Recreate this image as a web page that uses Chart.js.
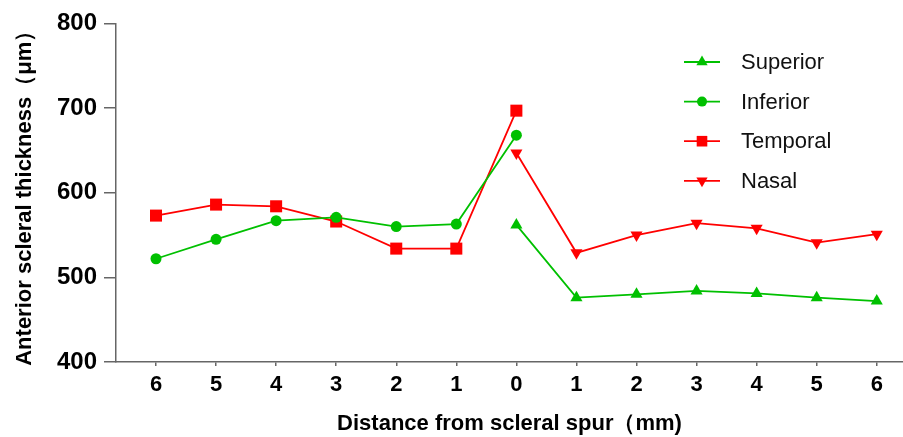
<!DOCTYPE html>
<html>
<head>
<meta charset="utf-8">
<script src="https://cdn.jsdelivr.net/npm/chart.js@4.4.1/dist/chart.umd.min.js"></script>
<style>
  html, body { margin: 0; padding: 0; background: #fff; }
  #wrap { width: 903px; height: 437px; }
</style>
</head>
<body>
<div id="wrap"><canvas id="chart" width="903" height="437"></canvas></div>
<script>
// distance labels along the x axis (left side temporal/inferior, right side nasal/superior)
const xLabels = ['6', '5', '4', '3', '2', '1', '0', '1', '2', '3', '4', '5', '6'];
const yTicks = [400, 500, 600, 700, 800];

// values, left half (6 -> 0)
const inferior = [522, 545, 567, 571, 560, 563, 668];
const temporal = [573, 586, 584, 566, 534, 534, 697];
// right half (0 -> 6)
const superior = [562, 476, 480, 484, 481, 476, 472];
const nasal = [647, 529, 550, 564, 558, 541, 551];

const GREEN = '#00c000';
const RED = '#ff0000';
const AXIS = '#666666';
const FONT = "'Liberation Sans', Arial, Helvetica, sans-serif";

// left series sit on indices 0..6, right series on 6..12
function leftPoints(vals) { return vals.map((v, i) => ({ x: i, y: v })); }
function rightPoints(vals) { return vals.map((v, i) => ({ x: i + 6, y: v })); }

function series(label, data, color, style, radius, rotation) {
    return {
        label,
        data,
        borderColor: color,
        backgroundColor: color,
        borderWidth: 1.8,
        pointStyle: style,
        pointRadius: radius,
        pointHoverRadius: radius,
        pointRotation: rotation || 0,
        pointBorderWidth: 0,
        fill: false,
        tension: 0
    };
}

const datasets = [
    series('Superior', rightPoints(superior), GREEN, 'triangle', 7),
    series('Inferior', leftPoints(inferior), GREEN, 'circle', 5.5),
    series('Temporal', leftPoints(temporal), RED, 'rect', 8.5),
    series('Nasal', rightPoints(nasal), RED, 'triangle', 7, 180)
];

// legend drawn inside the plot, line with marker through it
const insideLegend = {
    id: 'insideLegend',
    afterDraw(chart) {
        const ctx = chart.ctx;
        const drawPoint = Chart.helpers && Chart.helpers.drawPoint;
        ctx.save();
        chart.data.datasets.forEach((ds, i) => {
            const y = 62 + i * 39.6;
            ctx.strokeStyle = ds.borderColor;
            ctx.lineWidth = 1.8;
            ctx.beginPath();
            ctx.moveTo(684, y);
            ctx.lineTo(720, y);
            ctx.stroke();
            if (drawPoint) {
                ctx.fillStyle = ds.backgroundColor;
                drawPoint(ctx, {
                    pointStyle: ds.pointStyle,
                    radius: ds.pointStyle === 'rect' ? 7.5 : (ds.pointStyle === 'circle' ? 5 : 6.5),
                    rotation: ds.pointRotation,
                    borderWidth: 0
                }, 702, y);
            }
            ctx.fillStyle = '#111';
            ctx.font = '22px ' + FONT;
            ctx.textAlign = 'left';
            ctx.textBaseline = 'middle';
            ctx.fillText(ds.label, 741, y + 1);
        });
        ctx.restore();
    }
};

new Chart(document.getElementById('chart'), {
    type: 'line',
    data: { datasets },
    plugins: [insideLegend],
    options: {
        responsive: false,
        animation: false,
        events: [],
        clip: false,
        layout: { autoPadding: false, padding: { top: 23.5, right: 0, left: 0, bottom: 0 } },
        plugins: { legend: { display: false }, tooltip: { enabled: false } },
        scales: {
            x: {
                type: 'linear',
                min: -0.666,
                max: 12.437,
                afterFit: s => { s.height = 75; },
                afterBuildTicks: s => { s.ticks = xLabels.map((_, i) => ({ value: i })); },
                grid: { drawOnChartArea: false, drawTicks: true, tickLength: 4, color: AXIS, lineWidth: 1.5 },
                border: { display: true, color: AXIS, width: 1.5 },
                ticks: {
                    autoSkip: false,
                    maxRotation: 0,
                    padding: 6,
                    color: '#000',
                    font: { family: FONT, size: 22, weight: 'bold' },
                    callback: v => xLabels[v]
                },
                title: {
                    display: true,
                    text: 'Distance from scleral spur（mm)',
                    color: '#000',
                    font: { family: FONT, size: 22, weight: 'bold' },
                    padding: { top: 0, bottom: 0 }
                }
            },
            y: {
                min: 400,
                max: 800,
                afterFit: s => { s.width = 116; },
                afterBuildTicks: s => { s.ticks = yTicks.map(v => ({ value: v })); },
                grid: { drawOnChartArea: false, drawTicks: true, tickLength: 12, color: AXIS, lineWidth: 1.5 },
                border: { display: true, color: AXIS, width: 1.5 },
                ticks: {
                    padding: 7,
                    color: '#000',
                    font: { family: FONT, size: 24, weight: 'bold' }
                },
                title: {
                    display: true,
                    text: 'Anterior scleral thickness（μm）',
                    color: '#000',
                    font: { family: FONT, size: 22, weight: 'bold' },
                    padding: { top: 12, bottom: 0 }
                }
            }
        }
    }
});
</script>
</body>
</html>
